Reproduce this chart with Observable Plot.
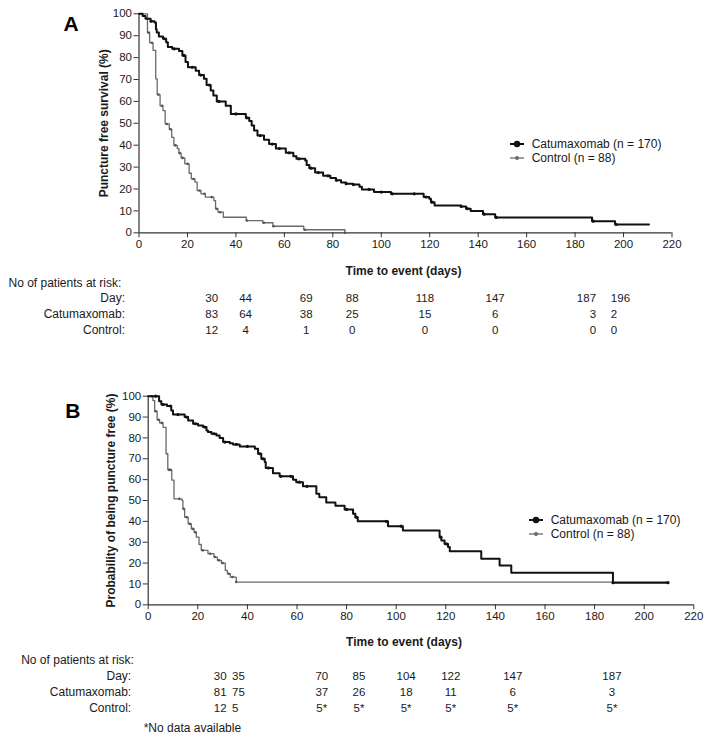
<!DOCTYPE html>
<html><head><meta charset="utf-8">
<script src="https://cdn.jsdelivr.net/npm/d3@7"></script>
<script src="https://cdn.jsdelivr.net/npm/@observablehq/plot@0.6"></script>
<style>
body{margin:0;background:#fff;font-family:"Liberation Sans",Arial,sans-serif;}
#wrap{position:relative;width:714px;height:738px;overflow:hidden;background:#fff}
.panel{position:absolute;left:0}
.leg{position:absolute;font-size:12px;color:#1a1a1a;white-space:nowrap;line-height:14px;height:14px}
.leg svg{position:absolute;left:0;top:0}
.leg span{position:absolute;top:0}
</style></head><body><div id="wrap"></div>
<script>
// ---------- Panel A data ----------
const catA_t = [0,1.5,2.7,4.8,6.4,7,7.3,8.2,9.9,11.2,11.9,13.7,16.5,17.9,19.2,20.2,23.4,24.8,26.8,27.9,29.6,30.7,32.1,35.8,37.9,44.1,45.5,46.5,47.5,48.9,51.6,53.7,56.5,60.6,63.7,65,68.6,69.2,70.3,72.7,76,79,81.3,83.4,85.5,88.3,91,92,97,104,117.5,119.8,120.5,122,133,135,136.9,142,147,187,196.5,210.5];
const catA_s = [100,99,97.7,96.6,96,93,91.5,89.6,88.6,87,84.8,84,83,81,78,75.6,74,72,70.3,67.5,65,62.7,60,58,54.3,52.5,51,49,46.7,44.4,42.5,40.5,38.5,36.5,35,33.8,33,31,29.5,27.5,26,25,24,23,22.4,22,21,19.8,18.6,17.8,16.3,15.5,14,12.5,12,11,9.9,8.5,7,5.3,3.8,3.8];
const ctrlA_t = [0,3.5,4.4,5.8,6.9,7.5,8.7,9.9,10.8,12.5,13.5,14.4,15.8,16.5,17.4,18.9,20.7,21.6,23.1,24,25.6,27.4,30.9,31.6,32.6,34.8,44.3,51.1,55.3,68,85];
const ctrlA_s = [100,91.4,86.8,83.3,70.3,63.1,58,55.8,49.7,47.3,43.6,39.9,38.4,36.4,34.2,31.5,27.2,24.6,23.1,19.3,17.8,16.3,14.7,11,9.4,7.1,5.6,4.6,3,1.4,0];
const catA_cens = [5,10.5,14.5,18.5,22,25.5,29,33,40,44.5,50,55,58,62,66,71,74,78,81.5,85.5,88.5,95,100,104.5,113.6,118.5,121,133,135.5,142.5,147.5,187.5,197];
const ctrlA_cens = [4,5.3,8,9.5,11.5,13,15,16.8,18,20,22.5,25,27,30,32,33.5,44.5,51.5,55.5,68.5,85];
const dayA = [30,44,69,88,118,147,187,196];
const catA_risk = ["83","64","38","25","15","6","3","2"];
const ctrlA_risk = ["12","4","1","0","0","0","0","0"];

// ---------- Panel B data ----------
const catB_t = [0,4.4,5.3,7.6,9.3,10,14.7,16.1,18.1,20.1,22.1,23.5,24.1,25.5,27.5,28.8,30.2,32.9,34.2,36.9,43,44.3,45.6,47,47.4,50.3,53,58.4,59.7,62.4,67.8,69,71.8,75.5,79.2,82.6,83.5,84.5,96.7,102.7,117.5,118.2,119.5,120.9,121.6,134.3,141.7,146.4,187.4,209.6];
const catB_s = [100,97.6,96,95.3,93.2,91.2,90,88.4,86.8,86,85.2,83.6,82.8,82,81.2,80,78,77.5,76.9,75.9,74.8,72.4,70,68.4,65.6,63.1,61.6,60,58.8,56.8,53.2,51.6,49.1,47.5,45.7,43.6,42,40,37.7,35.6,32.4,30.8,29.2,27.7,25.7,22.1,18.9,15.4,10.6,10.6];
const ctrlB_t = [0,1.9,2.6,3.6,4.6,6,7.2,7.9,9.5,10.4,13.6,14,14.7,16.1,17.4,18.5,19.4,20.5,21.4,24.1,26.5,27.9,29.5,31.1,31.9,33.1,35.5,209.6];
const ctrlB_s = [100,97.9,92.8,88.7,87.2,85.1,72.4,64.7,59.8,50.8,50,46,42,38.8,36.4,34.8,32.4,28.9,26.1,24.5,22.9,21.3,20,16.5,14.9,13.3,10.9,10.9];
const catB_cens = [3,6,9,12,15.5,19,22.8,26.5,31,35.5,40,45,46.3,48.5,53.5,57.5,61,64,80,84,96,102,118,120.3,187.4,209.6];
const ctrlB_cens = [1.5,3,4.2,5.5,8.4,9,12.5,14.3,15.5,16.8,18,19,22,25,27,28.5,30,32.5,34,35.5];
const dayB = [30,35,70,85,104,122,147,187];
const catB_risk = ["81","75","37","26","18","11","6","3"];
const ctrlB_risk = ["12","5","5*","5*","5*","5*","5*","5*"];

const xTicks = d3.range(0, 221, 20);
const yTicks = d3.range(0, 101, 10);
const FONT = '"Liberation Sans", Arial, sans-serif';
const TXT = "#1a1a1a";

function series(ts, ss) { return ts.map((t, i) => ({t, s: ss[i]})); }
function stepAt(ts, ss, t) { let v = ss[0]; for (let i = 0; i < ts.length; i++) if (ts[i] <= t) v = ss[i]; return v; }
function cens(ts, ss, cs) { return cs.map(c => ({t: c, s: stepAt(ts, ss, c)})); }

function panel(cfg) {
  const cat = series(cfg.catT, cfg.catS), ctrl = series(cfg.ctrlT, cfg.ctrlS);
  // close neighbours in the at-risk table are pushed apart (earlier one right-aligned, later one left-aligned)
  const risk = cfg.days.map((d, i) => {
    const prevClose = i > 0 && d - cfg.days[i - 1] < 10;
    const nextClose = i < cfg.days.length - 1 && cfg.days[i + 1] - d < 10;
    return {day: d, cat: cfg.catRisk[i], ctrl: cfg.ctrlRisk[i], pos: nextClose ? "end" : prevClose ? "start" : "middle"};
  });
  const m = cfg.m;
  const rowMarks = [];
  for (const [anchor, dx] of [["middle", 0], ["end", 4], ["start", -3]]) {
    const sub = risk.filter(r => r.pos === anchor);
    const base = {x: "day", frameAnchor: "bottom", textAnchor: anchor, dx, fontSize: 11.5, fill: TXT};
    rowMarks.push(
      Plot.text(sub, {...base, text: d => String(d.day), dy: cfg.rows.day}),
      Plot.text(sub, {...base, text: "cat", dy: cfg.rows.cat}),
      Plot.text(sub, {...base, text: "ctrl", dy: cfg.rows.ctrl})
    );
  }
  const marks = [
    Plot.ruleY([0], {stroke: "#333", strokeWidth: 1.2}),
    Plot.ruleX([0], {stroke: "#333", strokeWidth: 1.2}),
    Plot.axisX({ticks: xTicks, tickSize: 5, tickPadding: 2, label: null, stroke: "#333", fill: TXT}),
    Plot.axisY({ticks: yTicks, tickSize: 5, tickPadding: 2, label: null, stroke: "#333", fill: TXT}),
    Plot.line(ctrl, {x: "t", y: "s", curve: "step-after", stroke: "#6a6a6a", strokeWidth: 1.3}),
    Plot.dot(cens(cfg.ctrlT, cfg.ctrlS, cfg.ctrlCens), {x: "t", y: "s", r: 1.3, fill: "#555", stroke: null}),
    Plot.line(cat, {x: "t", y: "s", curve: "step-after", stroke: "#111", strokeWidth: 2}),
    Plot.dot(cens(cfg.catT, cfg.catS, cfg.catCens), {x: "t", y: "s", r: 1.6, fill: "#111", stroke: null}),
    Plot.text([cfg.letter], {frameAnchor: "top-left", dx: cfg.letterDx, dy: cfg.letterDy, textAnchor: "start", lineAnchor: "bottom", fontSize: 21, fontWeight: "bold", fill: "#000"}),
    Plot.text([cfg.yTitle], {frameAnchor: "left", rotate: -90, dx: cfg.yTitleDx, textAnchor: "middle", fontSize: 12, fontWeight: "bold", fill: TXT}),
    Plot.text(["Time to event (days)"], {frameAnchor: "bottom", dx: cfg.xTitleDx, dy: cfg.rows.title, fontSize: 12, fontWeight: "bold", fill: TXT}),
    Plot.text(["No of patients at risk:"], {frameAnchor: "bottom-left", dx: cfg.riskDx, dy: cfg.rows.head, textAnchor: "start", fontSize: 12, fill: TXT}),
    Plot.text(["Day:"], {frameAnchor: "bottom-left", dx: cfg.rowLabDx, dy: cfg.rows.day, textAnchor: "end", fontSize: 12, fill: TXT}),
    Plot.text(["Catumaxomab:"], {frameAnchor: "bottom-left", dx: cfg.rowLabDx, dy: cfg.rows.cat, textAnchor: "end", fontSize: 12, fill: TXT}),
    Plot.text(["Control:"], {frameAnchor: "bottom-left", dx: cfg.rowLabDx, dy: cfg.rows.ctrl, textAnchor: "end", fontSize: 12, fill: TXT}),
    ...rowMarks
  ];
  if (cfg.note) marks.push(Plot.text([cfg.note], {frameAnchor: "bottom-left", dx: cfg.noteDx, dy: cfg.rows.note, textAnchor: "start", fontSize: 12, fill: TXT}));
  return Plot.plot({
    width: 714, height: cfg.height,
    marginLeft: m[0], marginRight: m[1], marginTop: m[2], marginBottom: m[3],
    x: {domain: [0, 220]},
    y: {domain: [0, 100]},
    style: {fontFamily: FONT, fontSize: "11.5px", background: "#fff", color: TXT, overflow: "visible"},
    marks
  });
}

const wrap = document.getElementById("wrap");

const A = panel({
  height: 345, m: [138.5, 42.5, 13.3, 112.7],
  catT: catA_t, catS: catA_s, ctrlT: ctrlA_t, ctrlS: ctrlA_s, catCens: catA_cens, ctrlCens: ctrlA_cens,
  days: dayA, catRisk: catA_risk, ctrlRisk: ctrlA_risk,
  letter: "A", letterDx: -75.5, letterDy: 17,
  yTitle: "Puncture free survival (%)", yTitleDx: -34.5, xTitleDx: -2,
  riskDx: -130.5, rowLabDx: -14,
  rows: {title: 42, head: 54, day: 69, cat: 85, ctrl: 101}
});
A.classList.add("panel"); A.style.top = "0px";
wrap.appendChild(A);

const B = panel({
  height: 393, m: [147.7, 20.7, 50.7, 133.7],
  catT: catB_t, catS: catB_s, ctrlT: ctrlB_t, ctrlS: ctrlB_s, catCens: catB_cens, ctrlCens: ctrlB_cens,
  days: dayB, catRisk: catB_risk, ctrlRisk: ctrlB_risk,
  letter: "B", letterDx: -83, letterDy: 21.5,
  yTitle: "Probability of being puncture free (%)", yTitleDx: -37, xTitleDx: -17,
  riskDx: -127, rowLabDx: -17,
  rows: {title: 41, head: 59, day: 75, cat: 91, ctrl: 107, note: 127},
  note: "*No data available", noteDx: -4.5
});
B.classList.add("panel"); B.style.top = "345px";
wrap.appendChild(B);

function legend(x, y, spanDx, items) {
  items.forEach((it, i) => {
    const d = document.createElement("div");
    d.className = "leg";
    d.style.left = x + "px";
    d.style.top = (y + i * 14 - 7) + "px";
    d.innerHTML = `<svg width="16" height="14"><line x1="0" x2="14" y1="7" y2="7" stroke="${it.color}" stroke-width="${it.w}"/><circle cx="7" cy="7" r="${it.r}" fill="${it.color}"/></svg><span style="left:${spanDx}px">${it.label}</span>`;
    wrap.appendChild(d);
  });
}
const legItems = [
  {label: "Catumaxomab (n = 170)", color: "#111", w: 2, r: 3.2},
  {label: "Control (n = 88)", color: "#6a6a6a", w: 1.3, r: 2}
];
legend(510, 143.5, 21.7, legItems);
legend(529, 520, 21.7, legItems);
</script></body></html>
